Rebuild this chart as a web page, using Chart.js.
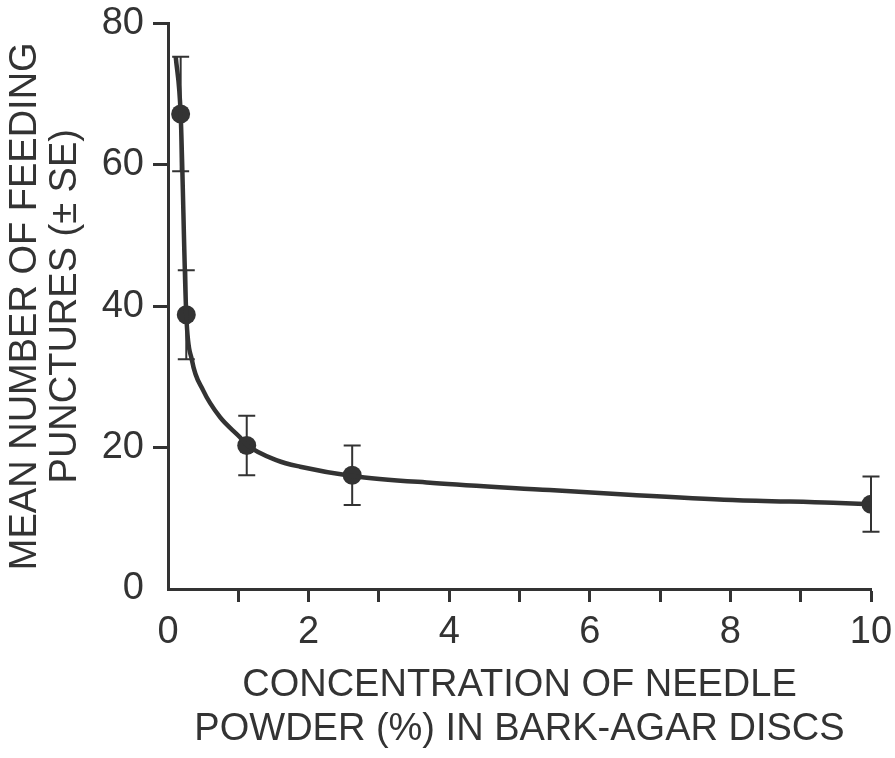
<!DOCTYPE html>
<html>
<head>
<meta charset="utf-8">
<script src="https://cdn.jsdelivr.net/npm/chart.js@4.4.1/dist/chart.umd.min.js"></script>
<style>
  html, body { margin: 0; padding: 0; background: #fff; }
  #wrap { width: 895px; height: 758px; }
</style>
</head>
<body>
<div id="wrap"><canvas id="feedChart"></canvas></div>
<script>
// measured points (concentration %, mean punctures, SE)
const concentration = [0.18, 0.26, 1.12, 2.62, 10];
const meanPunctures = [67.2, 38.8, 20.3, 16.1, 12.0];
const stdErr = [8.1, 6.3, 4.2, 4.2, 3.9];

// fitted curve
const curveX = [0.11, 0.18, 0.26, 0.34, 0.5, 0.74, 1.02, 1.12, 1.55, 1.88, 2.62, 3.77, 5.43, 6.61, 8.03, 9.46, 10];
const curveY = [75.3, 67.2, 38.8, 32.4, 28.1, 24.3, 21.5, 20.4, 18.2, 17.3, 16.0, 15.0, 14.0, 13.3, 12.6, 12.2, 12.0];

const yTicks = [0, 20, 40, 60, 80];
const xLabels = [0, 2, 4, 6, 8, 10];

const ink = "#333333";
const fam = "'Liberation Sans', Arial, Helvetica, sans-serif";

const errorBars = {
  id: "errorBars",
  beforeDatasetsDraw(chart) {
    const { ctx, scales } = chart;
    ctx.save();
    ctx.strokeStyle = ink;
    ctx.lineWidth = 2;
    concentration.forEach((c, i) => {
      const x = scales.x.getPixelForValue(c);
      const top = scales.y.getPixelForValue(meanPunctures[i] + stdErr[i]);
      const bot = scales.y.getPixelForValue(meanPunctures[i] - stdErr[i]);
      ctx.beginPath();
      ctx.moveTo(x, top);
      ctx.lineTo(x, bot);
      ctx.moveTo(x - 8.5, top);
      ctx.lineTo(x + 8.5, top);
      ctx.moveTo(x - 8.5, bot);
      ctx.lineTo(x + 8.5, bot);
      ctx.stroke();
    });
    ctx.restore();
  },
};

const hideZero = (c) => (c.tick && c.tick.value === 0 ? "rgba(0,0,0,0)" : ink);

new Chart(document.getElementById("feedChart"), {
  type: "scatter",
  data: {
    datasets: [
      {
        type: "line",
        data: curveX.map((x, i) => ({ x, y: curveY[i] })),
        borderColor: ink,
        borderWidth: 4.5,
        pointRadius: 0,
        cubicInterpolationMode: "monotone",
        fill: false,
      },
      {
        data: concentration.map((x, i) => ({ x, y: meanPunctures[i] })),
        backgroundColor: ink,
        borderWidth: 0,
        pointRadius: 9.5,
      },
    ],
  },
  options: {
    responsive: true,
    maintainAspectRatio: false,
    animation: false,
    layout: { padding: { left: 0, top: 23.5, right: 24, bottom: 0 } },
    plugins: { legend: { display: false }, tooltip: { enabled: false } },
    scales: {
      x: {
        type: "linear",
        min: 0,
        max: 10,
        afterFit: (s) => { s.height = 169; s.paddingLeft = 0; s.paddingRight = 0; },
        border: { display: true, color: ink, width: 3 },
        grid: { drawOnChartArea: false, drawTicks: true, tickLength: 13, tickWidth: 3, tickColor: hideZero },
        ticks: {
          stepSize: 1,
          autoSkip: false,
          maxRotation: 0,
          padding: 8,
          color: ink,
          font: { family: fam, size: 38 },
          callback: (v) => (xLabels.includes(v) ? String(v) : ""),
        },
        title: {
          display: true,
          text: ["CONCENTRATION OF NEEDLE", "POWDER (%) IN BARK-AGAR DISCS"],
          color: ink,
          font: { family: fam, size: 38, lineHeight: 1.15 },
          padding: { top: 0, bottom: 7 },
        },
      },
      y: {
        min: 0,
        max: 80,
        afterFit: (s) => { s.width = 168; s.paddingTop = 0; s.paddingBottom = 0; },
        afterBuildTicks: (s) => { s.ticks = yTicks.map((v) => ({ value: v })); },
        border: { display: true, color: ink, width: 3 },
        grid: { drawOnChartArea: false, drawTicks: true, tickLength: 15, tickWidth: 3, tickColor: hideZero },
        ticks: {
          padding: 9,
          color: ink,
          font: { family: fam, size: 38 },
        },
        title: {
          display: true,
          text: ["MEAN NUMBER OF FEEDING", "PUNCTURES (± SE)"],
          color: ink,
          font: { family: fam, size: 38, lineHeight: 1.07 },
          padding: { top: 5, bottom: 0 },
        },
      },
    },
  },
  plugins: [errorBars],
});
</script>
</body>
</html>
